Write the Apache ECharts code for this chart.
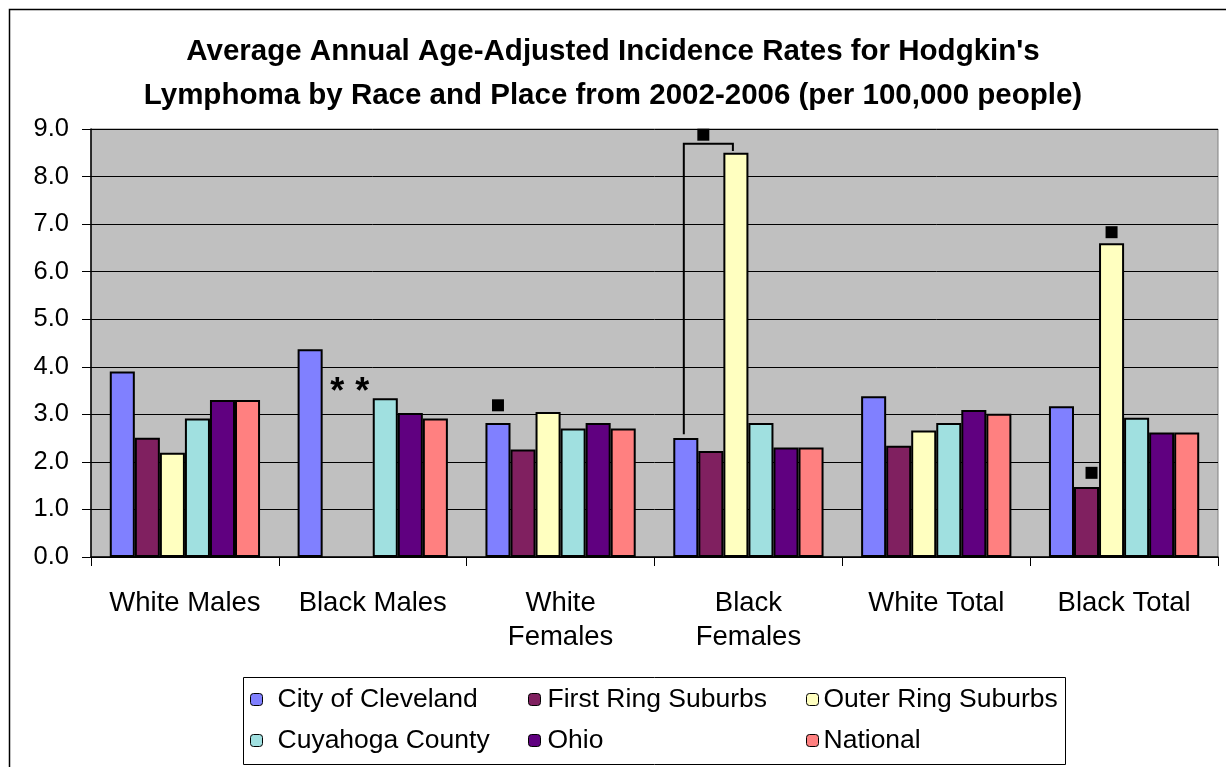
<!DOCTYPE html>
<html><head><meta charset="utf-8">
<script src="https://cdn.jsdelivr.net/npm/echarts@6/dist/echarts.min.js"></script>
<style>html,body{margin:0;padding:0;background:#fff}#c{width:1226px;height:767px}</style>
</head><body><div id="c"></div>
<script>
const categories = ['White Males', 'Black Males', 'White\nFemales', 'Black\nFemales', 'White Total', 'Black Total'];
const cityOfCleveland   = [3.90, 4.37, 2.82, 2.50, 3.38, 3.17];
const firstRingSuburbs  = [2.51, null, 2.26, 2.23, 2.34, 1.47];
const outerRingSuburbs  = [2.19, null, 3.05, 8.50, 2.66, 6.60];
const cuyahogaCounty    = [2.91, 3.34, 2.70, 2.82, 2.82, 2.93];
const ohio              = [3.30, 3.03, 2.82, 2.30, 3.09, 2.62];
const national          = [3.30, 2.91, 2.70, 2.30, 3.01, 2.62];
const seriesNames = ['City of Cleveland', 'First Ring Suburbs', 'Outer Ring Suburbs', 'Cuyahoga County', 'Ohio', 'National'];
const yTicks = [0, 1, 2, 3, 4, 5, 6, 7, 8, 9];
// annotations: [categoryIndex, value, barSlot, kind]
const notes = [
  [1, 3.60, 1, 'star'],
  [1, 3.60, 2, 'star'],
  [2, 3.19, 0, 'square'],
  [3, 8.88, 0.7, 'square'],
  [5, 6.83, 2, 'square'],
  [5, 1.77, 1.2, 'square']
];
// bracket: [categoryIndex, leftLow, leftSlot, top, rightSlot, rightLow]
const brackets = [[3, 2.58, 0, 8.69, 2, 8.54]];

const colors = ['#8080FF', '#802060', '#FFFFC0', '#A0E0E0', '#600080', '#FF8080'];
const FONT = 'Liberation Sans, Arial, sans-serif';
const values = [cityOfCleveland, firstRingSuburbs, outerRingSuburbs, cuyahogaCounty, ohio, national];
const NB = 6, CATGAP = 0.2;
function slotX(api, cat, slot) {
  const c = api.coord([cat, 0])[0];
  const bw = api.size([1, 0])[0];
  const inner = bw * (1 - CATGAP);
  return c - inner / 2 + (slot + 0.5) * inner / NB;
}

const chart = echarts.init(document.getElementById('c'));
const series = seriesNames.map((n, i) => ({
  name: n, type: 'bar', data: values[i], barGap: '0%', barCategoryGap: '20%',
  itemStyle: { color: colors[i], borderColor: '#000', borderWidth: 2 },
  emphasis: { disabled: true }, animation: false
}));
series.push({
  type: 'custom', name: 'notes', data: notes, encode: { x: 0, y: 1 }, z: 10, silent: true, animation: false, clip: false,
  renderItem: function (params, api) {
    const cat = api.value(0), v = api.value(1), slot = api.value(2);
    const kind = notes[params.dataIndex][3];
    const x = slotX(api, cat, slot);
    const y = api.coord([cat, v])[1];
    if (kind === 'square') {
      return { type: 'rect', shape: { x: x - 6, y: y - 6, width: 12, height: 12 }, style: { fill: '#000' } };
    }
    return { type: 'text', style: { text: '*', x: x + 2, y: y + 7, fill: '#000', font: 'bold 36px ' + FONT, align: 'center', verticalAlign: 'middle' } };
  }
});
series.push({
  type: 'custom', name: 'bracket', data: brackets, encode: { x: 0, y: 3 }, z: 10, silent: true, animation: false, clip: false,
  renderItem: function (params, api) {
    const cat = api.value(0);
    const xl = slotX(api, cat, api.value(2)), xr = slotX(api, cat, api.value(4));
    const yl = api.coord([cat, api.value(1)])[1], yt = api.coord([cat, api.value(3)])[1], yr = api.coord([cat, api.value(5)])[1];
    return { type: 'polyline', shape: { points: [[xl - 2, yl], [xl - 2, yt], [xr - 3, yt], [xr - 3, yr]] }, style: { stroke: '#000', lineWidth: 2, fill: null } };
  }
});

const legendCols = [250, 528, 806];
const legendTextPad = [10, 2, 0];
const legendRows = [686, 727];
const legends = seriesNames.map((n, i) => ({
  data: [n], left: legendCols[i % 3], top: legendRows[Math.floor(i / 3)],
  itemWidth: 12, itemHeight: 12, itemGap: 0, padding: 0,
  selectedMode: false,
  itemStyle: { borderWidth: 1, borderColor: '#000' },
  textStyle: { fontFamily: FONT, fontSize: 26.5, color: '#000', padding: [0, 0, 0, legendTextPad[i % 3]] }
}));

chart.setOption({
  animation: false,
  color: colors,
  title: {
    text: "Average Annual Age-Adjusted Incidence Rates for Hodgkin's\nLymphoma by Race and Place from 2002-2006 (per 100,000 people)",
    left: 'center', top: 30, padding: [0, 0, 0, 18],
    textStyle: { fontFamily: FONT, fontSize: 29.5, fontWeight: 'bold', color: '#000', lineHeight: 44 }
  },
  legend: legends,
  grid: { left: 91, right: 8, top: 129, bottom: 210, show: true, backgroundColor: '#C0C0C0', borderColor: '#808080', borderWidth: 1 },
  xAxis: {
    type: 'category', data: categories,
    axisLine: { lineStyle: { color: '#000', width: 1.5 } },
    axisTick: { show: true, length: 9, lineStyle: { color: '#000' } },
    axisLabel: { color: '#000', fontFamily: FONT, fontSize: 27.5, margin: 29, lineHeight: 34, interval: 0 }
  },
  yAxis: {
    type: 'value', min: yTicks[0], max: yTicks[yTicks.length - 1], interval: 1,
    axisLine: { show: true, lineStyle: { color: '#000', width: 1.5 } },
    axisTick: { show: true, length: 9, lineStyle: { color: '#000' } },
    splitLine: { lineStyle: { color: '#000', width: 1 } },
    axisLabel: { color: '#000', fontFamily: FONT, fontSize: 25.5, margin: 22, formatter: v => v.toFixed(1) }
  },
  graphic: [
    { type: 'rect', left: 7, top: 7, shape: { width: 1240, height: 800 }, style: { fill: null, stroke: '#000', lineWidth: 1.5 }, silent: true },
    { type: 'rect', left: 241, top: 675, shape: { width: 822, height: 87 }, style: { fill: null, stroke: '#000', lineWidth: 1 }, silent: true }
  ],
  series: series
});
</script></body></html>
